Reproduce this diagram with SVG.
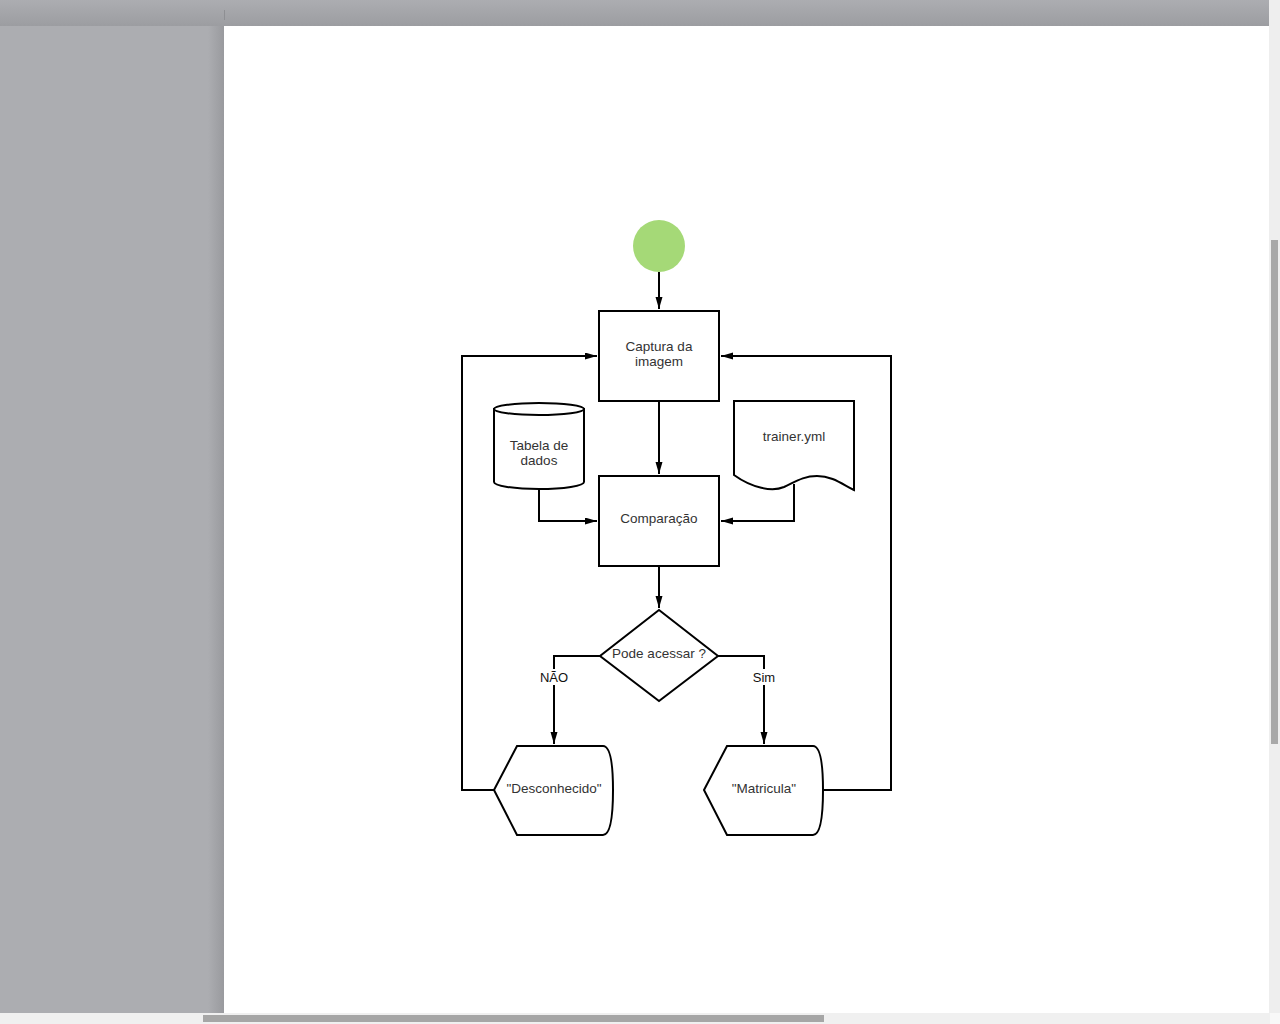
<svg xmlns="http://www.w3.org/2000/svg" width="1280" height="1024" viewBox="0 0 1280 1024">
  <defs>
    <linearGradient id="topShade" x1="0" y1="0" x2="0" y2="1">
      <stop offset="0" stop-color="#acadb1"/>
      <stop offset="1" stop-color="#9c9da1"/>
    </linearGradient>
    <linearGradient id="leftShade" x1="0" y1="0" x2="1" y2="0">
      <stop offset="0" stop-color="#acadb1"/>
      <stop offset="1" stop-color="#999a9e"/>
    </linearGradient>
    <marker id="arrow" markerUnits="userSpaceOnUse" markerWidth="13" markerHeight="8" refX="12" refY="3.5" orient="auto">
      <path d="M0,0 L12,3.5 L0,7 Z" fill="#000"/>
    </marker>
  </defs>
  <style>
    .shape { fill: #fff; stroke: #000; stroke-width: 2; }
    .edge { fill: none; stroke: #000; stroke-width: 2; marker-end: url(#arrow); }
    .txt { font-family: "Liberation Sans", Arial, sans-serif; font-size: 13.5px; fill: #333; text-anchor: middle; }
    .lbl { font-family: "Liberation Sans", Arial, sans-serif; font-size: 13px; fill: #111; text-anchor: middle; }
  </style>

  <!-- viewer chrome -->
  <rect x="0" y="0" width="1280" height="1024" fill="#acadb1"/>
  <rect x="208" y="26" width="16" height="987" fill="url(#leftShade)"/>
  <rect x="0" y="0" width="1269" height="26" fill="url(#topShade)"/>
  <rect x="224" y="26" width="1045" height="987" fill="#ffffff"/>
  <line x1="224.5" y1="10" x2="224.5" y2="20" stroke="#8e8f93" stroke-width="1"/>
  <rect x="1269" y="0" width="11" height="1013" fill="#eeeeee"/>
  <rect x="1271" y="240" width="7" height="504" fill="#a8a8a8"/>
  <rect x="0" y="1013" width="1270" height="11" fill="#f0f0f0"/>
  <rect x="1270" y="1013" width="10" height="11" fill="#f8f8f8"/>
  <rect x="203" y="1015" width="621" height="7" fill="#a6a6a6"/>

  <!-- connectors -->
  <g id="connectors">
    <path class="edge" d="M659,272 L659,309"/>
    <path class="edge" d="M659,401 L659,474"/>
    <path class="edge" d="M539,489 L539,521 L597,521"/>
    <path class="edge" d="M794,484 L794,521 L721,521"/>
    <path class="edge" d="M659,566 L659,608"/>
    <path class="edge" d="M600,656 L554,656 L554,744"/>
    <path class="edge" d="M718,656 L764,656 L764,744"/>
    <path class="edge" d="M494,790 L462,790 L462,356 L597,356"/>
    <path class="edge" d="M823,790 L891,790 L891,356 L721,356"/>
    <rect x="538" y="669" width="32" height="16" fill="#fff"/>
    <text class="lbl" x="554" y="682">NÃO</text>
    <rect x="750" y="669" width="28" height="16" fill="#fff"/>
    <text class="lbl" x="764" y="682">Sim</text>
  </g>

  <!-- nodes -->
  <g id="start">
    <circle cx="659" cy="246" r="26" fill="#a5d977"/>
  </g>
  <g id="captura">
    <rect class="shape" x="599" y="311" width="120" height="90"/>
    <text class="txt" x="659" y="350.5">Captura da</text>
    <text class="txt" x="659" y="366">imagem</text>
  </g>
  <g id="tabela">
    <path class="shape" d="M494,409 L494,482 A45,7 0 0 0 584,482 L584,409 Z"/>
    <ellipse class="shape" cx="539" cy="409" rx="45" ry="6"/>
    <text class="txt" x="539" y="449.5">Tabela de</text>
    <text class="txt" x="539" y="465">dados</text>
  </g>
  <g id="trainer">
    <path class="shape" d="M734,401 L854,401 L854,490 C842,484 832,476 817,476 C803,476 795,482 784,487 C772,492 752,488 734,475 Z"/>
    <text class="txt" x="794" y="441">trainer.yml</text>
  </g>
  <g id="comparacao">
    <rect class="shape" x="599" y="476" width="120" height="90"/>
    <text class="txt" x="659" y="523">Comparação</text>
  </g>
  <g id="decisao">
    <polygon class="shape" points="659,610 718,656 659,701 600,656"/>
    <text class="txt" x="659" y="658">Pode acessar ?</text>
  </g>
  <g id="desconhecido">
    <path class="shape" d="M494,790 L517,746 L603,746 C611,746 613,768 613,790 C613,812 611,835 603,835 L517,835 Z"/>
    <text class="txt" x="554" y="793">"Desconhecido"</text>
  </g>
  <g id="matricula">
    <path class="shape" d="M704,790 L727,746 L813,746 C821,746 823,768 823,790 C823,812 821,835 813,835 L727,835 Z"/>
    <text class="txt" x="764" y="793">"Matricula"</text>
  </g>
</svg>
